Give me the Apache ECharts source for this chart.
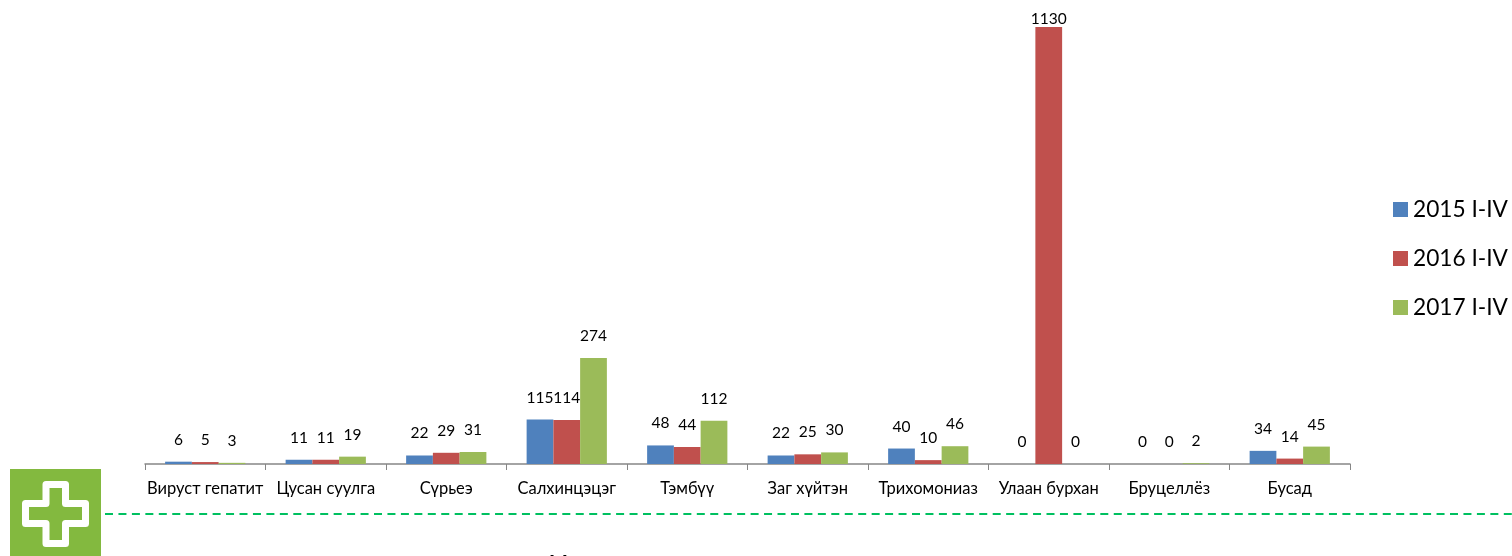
<!DOCTYPE html>
<html><head><meta charset="utf-8">
<style>html,body{margin:0;padding:0;background:#fff}#c{width:1512px;height:556px}</style>
<script src="https://cdn.jsdelivr.net/npm/echarts@6/dist/echarts.min.js"></script>
</head><body><div id="c"></div>
<script>
const categories = ['Вируст гепатит','Цусан суулга','Сүрьеэ','Салхинцэцэг','Тэмбүү','Заг хүйтэн','Трихомониаз','Улаан бурхан','Бруцеллёз','Бусад'];
const s2015 = [6,11,22,115,48,22,40,0,0,34];
const s2016 = [5,11,29,114,44,25,10,1130,0,14];
const s2017 = [3,19,31,274,112,30,46,0,2,45];
const names = ['2015 I-IV','2016 I-IV','2017 I-IV'];
const colors = ['#4f81bd','#c0504d','#9bbb59'];
const font = 'Lato, "Open Sans", sans-serif';
const mk = (name,data,color)=>({
  name,type:'bar',barGap:0,barCategoryGap:'33.4%',
  data:data.map(v=>v===1130?{value:v,label:{distance:0}}:v),
  itemStyle:{color},
  label:{show:true,position:'top',distance:14,color:'#000',fontFamily:font,fontSize:15.5}
});
const chart = echarts.init(document.getElementById('c'),null,{renderer:'canvas'});
chart.setOption({
  animation:false,
  backgroundColor:'#fff',
  grid:{left:145,right:162,top:27,bottom:92,containLabel:false},
  legend:{orient:'vertical',left:1388,top:193,itemWidth:15,itemHeight:15,itemGap:26,
    textStyle:{fontFamily:font,fontSize:22.7,color:'#000'},
    data:names.map(n=>({name:n,icon:'rect'}))},
  xAxis:{type:'category',data:categories,
    axisLine:{lineStyle:{color:'#868686',width:1.5}},
    axisTick:{show:true,length:6,alignWithLabel:false,lineStyle:{color:'#868686',width:1}},
    axisLabel:{color:'#000',fontFamily:font,fontSize:16.5,margin:16,interval:0}},
  yAxis:{type:'value',min:0,max:1130,show:false,splitLine:{show:false}},
  series:[mk(names[0],s2015,colors[0]),mk(names[1],s2016,colors[1]),mk(names[2],s2017,colors[2])],
  graphic:[
    {type:'rect',shape:{x:10,y:469,width:91,height:87},style:{fill:'#83b93f'}},
    {type:'polygon',shape:{points:[[46,484.5],[65.5,484.5],[65.5,503.5],[85.5,503.5],[85.5,523.5],[65.5,523.5],[65.5,543.5],[46,543.5],[46,523.5],[25.5,523.5],[25.5,503.5],[46,503.5]]},
      style:{fill:'none',stroke:'#fff',lineWidth:7,lineJoin:'round'}},
    {type:'line',shape:{x1:105,y1:514,x2:1512,y2:514},style:{stroke:'#00c060',lineWidth:2,lineDash:[8,5.45]}},
    {type:'text',x:549,y:554,style:{text:'М',fontFamily:font,fontSize:20,fontWeight:'bold',fill:'#000'}}
  ]
});
</script></body></html>
